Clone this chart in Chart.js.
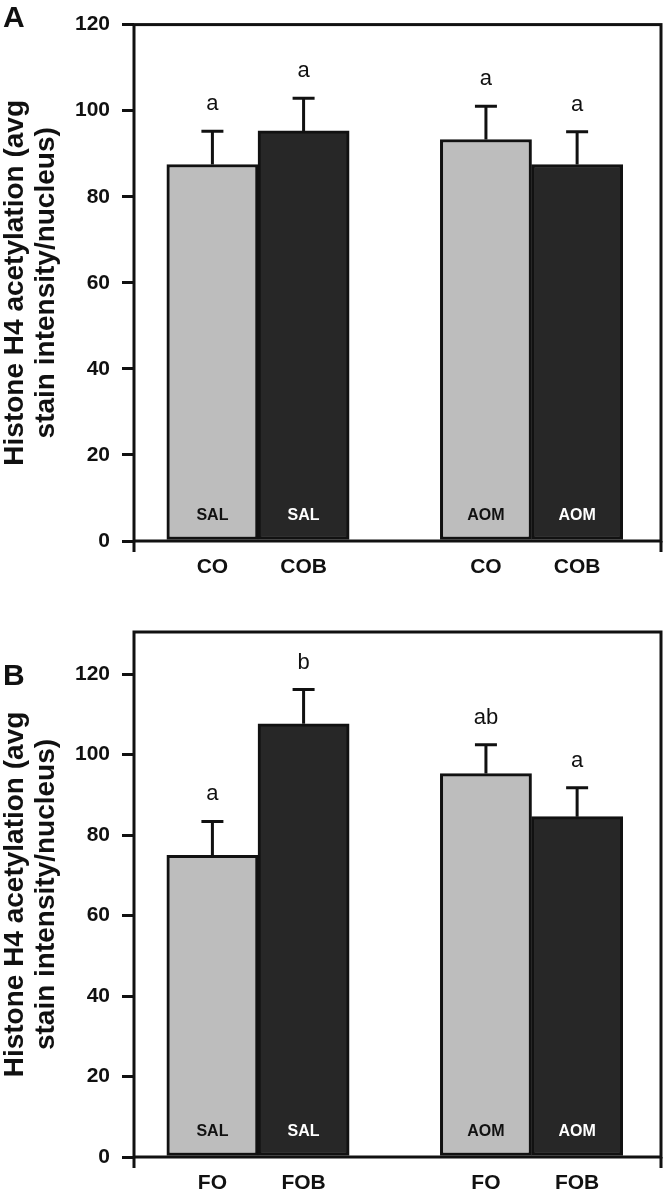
<!DOCTYPE html>
<html>
<head>
<meta charset="utf-8">
<script src="https://cdn.jsdelivr.net/npm/chart.js@4.4.1/dist/chart.umd.min.js"></script>
<style>
  body { margin: 0; background: #fff; }
  canvas { display: block; }
</style>
</head>
<body>
<canvas id="chartA" width="668" height="600"></canvas>
<canvas id="chartB" width="668" height="600"></canvas>
<script>
// panel A data (blank category = gap between SAL and AOM groups)
const panelALabels = ['CO', 'COB', '', 'CO', 'COB'];
const panelAGroups = ['SAL', 'SAL', '', 'AOM', 'AOM'];
const panelAValues = [87.5, 95.3, null, 93.3, 87.5];
const panelAErrors = [7.7, 7.6, null, 7.7, 7.6];
const panelALetters = ['a', 'a', '', 'a', 'a'];

// panel B data
const panelBLabels = ['FO', 'FOB', '', 'FO', 'FOB'];
const panelBGroups = ['SAL', 'SAL', '', 'AOM', 'AOM'];
const panelBValues = [75, 107.7, null, 95.3, 84.6];
const panelBErrors = [8.4, 8.5, null, 7.2, 7.2];
const panelBLetters = ['a', 'b', '', 'ab', 'a'];

const yTickValues = [0, 20, 40, 60, 80, 100, 120];
const yTitle = ['Histone H4 acetylation (avg', 'stain intensity/nucleus)'];

const LIGHT = '#bdbdbd';
const DARK = '#272727';
const INK = '#111';
const FONT = '"Liberation Sans", Arial, sans-serif';

const isDark = l => l.endsWith('B');

// error bars, significance letters and the SAL / AOM tags inside the bars
const annotations = {
  id: 'annotations',
  afterDatasetsDraw(chart, args, opts) {
    const ctx = chart.ctx;
    const y = chart.scales.y;
    const bars = chart.getDatasetMeta(0).data;
    ctx.save();
    bars.forEach((bar, i) => {
      const v = opts.values[i];
      if (v == null) return;
      const top = y.getPixelForValue(v + opts.errors[i]);
      ctx.strokeStyle = INK;
      ctx.lineWidth = 3;
      ctx.beginPath();
      ctx.moveTo(bar.x, bar.y);
      ctx.lineTo(bar.x, top);
      ctx.moveTo(bar.x - 11, top);
      ctx.lineTo(bar.x + 11, top);
      ctx.stroke();

      ctx.fillStyle = INK;
      ctx.font = '22px ' + FONT;
      ctx.textAlign = 'center';
      ctx.textBaseline = 'alphabetic';
      ctx.fillText(opts.letters[i], bar.x, top - 21);

      ctx.font = 'bold 16px ' + FONT;
      ctx.textBaseline = 'middle';
      ctx.fillStyle = isDark(opts.labels[i]) ? '#fff' : INK;
      ctx.fillText(opts.groups[i], bar.x, y.getPixelForValue(0) - 25);
    });
    ctx.restore();
  },
  afterDraw(chart, args, opts) {
    const { ctx, chartArea: a } = chart;
    ctx.save();
    ctx.strokeStyle = INK;
    ctx.lineWidth = 3;
    ctx.strokeRect(a.left, a.top, a.right - a.left, a.bottom - a.top);
    // little stubs of the frame below the base line
    ctx.beginPath();
    ctx.moveTo(a.left, a.bottom);
    ctx.lineTo(a.left, a.bottom + 11);
    ctx.moveTo(a.right, a.bottom);
    ctx.lineTo(a.right, a.bottom + 11);
    ctx.stroke();
    ctx.fillStyle = INK;
    ctx.font = 'bold 30px ' + FONT;
    ctx.textAlign = 'left';
    ctx.textBaseline = 'top';
    ctx.fillText(opts.panel, 3, opts.panelY);
    ctx.restore();
  }
};

function makeChart(id, labels, groups, values, errors, letters, panel, opts) {
  return new Chart(document.getElementById(id), {
    type: 'bar',
    data: {
      datasets: [{
        data: values.map((v, i) => ({ x: i, y: v })),
        backgroundColor: labels.map(l => isDark(l) ? DARK : LIGHT),
        borderColor: INK,
        borderWidth: 3,
        borderSkipped: false,
        barPercentage: 1,
        categoryPercentage: 1
      }]
    },
    options: {
      responsive: false,
      animation: false,
      layout: { padding: { top: opts.top, right: 7, left: 0, bottom: 0 } },
      plugins: {
        legend: { display: false },
        tooltip: { enabled: false },
        annotations: { labels, values, errors, letters, groups, panel, panelY: opts.panelY }
      },
      scales: {
        x: {
          type: 'linear',
          offset: false,
          min: -0.86,
          max: 4.92,
          afterBuildTicks: s => {
            s.ticks = labels.map((l, i) => ({ value: i })).filter(t => labels[t.value] !== '');
          },
          afterFit: s => { s.height = opts.xHeight; },
          grid: { display: false, drawTicks: false },
          border: { display: false },
          ticks: {
            padding: 14,
            color: INK,
            font: { family: FONT, size: 21, weight: 'bold' },
            callback: v => labels[v]
          }
        },
        y: {
          min: 0,
          max: opts.yMax,
          afterBuildTicks: s => {
            s.ticks = yTickValues.map(v => ({ value: v }));
          },
          afterFit: s => { s.width = 134; },
          grid: { drawOnChartArea: false, tickLength: 12, lineWidth: 3, color: INK },
          border: { display: false },
          ticks: {
            padding: 12,
            color: INK,
            font: { family: FONT, size: 21, weight: 'bold' }
          },
          title: {
            display: true,
            text: yTitle,
            color: INK,
            padding: 0,
            font: { family: FONT, size: 28, weight: 'bold', lineHeight: 1.1 }
          }
        }
      }
    },
    plugins: [annotations]
  });
}

makeChart('chartA', panelALabels, panelAGroups, panelAValues, panelAErrors, panelALetters, 'A',
  { top: 16, xHeight: 59, yMax: 120, panelY: 4 });
makeChart('chartB', panelBLabels, panelBGroups, panelBValues, panelBErrors, panelBLetters, 'B',
  { top: 32, xHeight: 43, yMax: 130.5, panelY: 62 });
</script>
</body>
</html>
